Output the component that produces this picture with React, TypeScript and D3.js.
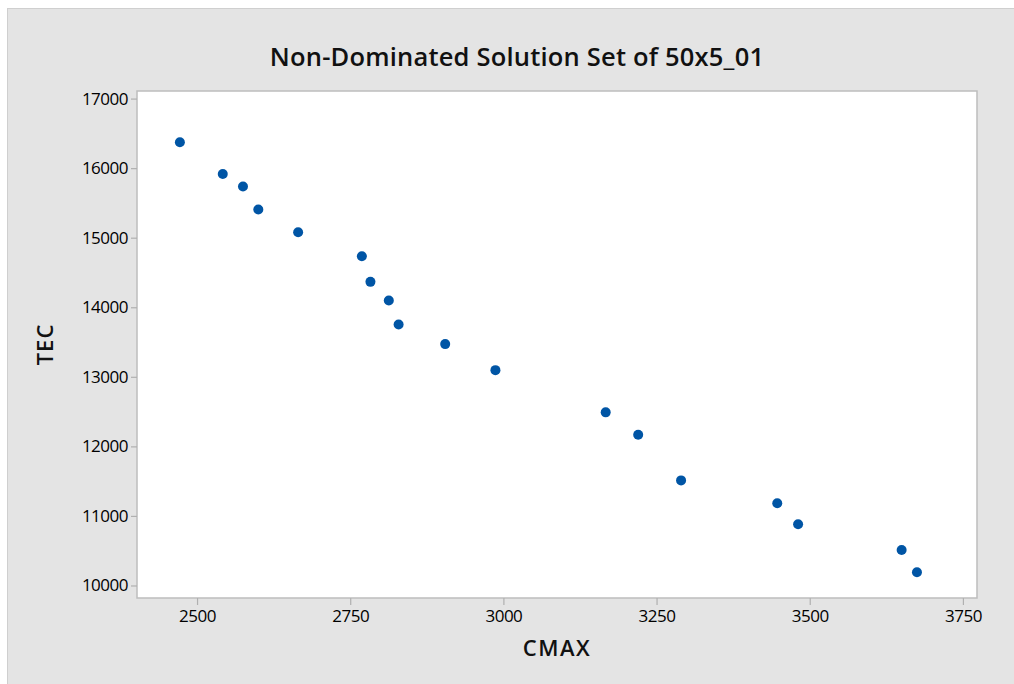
import React, { useRef, useEffect } from 'react';
import * as d3 from 'd3';

// CMAX / TEC values
const cmax = [2472, 2542, 2575, 2600, 2665, 2769, 2783, 2813, 2829, 2905, 2987, 3167, 3220, 3290, 3447, 3481, 3650, 3675];
const tec = [16372, 15917, 15736, 15405, 15079, 14734, 14365, 14098, 13753, 13470, 13096, 12489, 12167, 11511, 11181, 10879, 10510, 10190];
const xTicks = [2500, 2750, 3000, 3250, 3500, 3750];
const yTicks = [10000, 11000, 12000, 13000, 14000, 15000, 16000, 17000];

const width = 1014;
const height = 684;

const App = () => {
  const ref = useRef<SVGSVGElement>(null);

  useEffect(() => {
    const svg = d3.select(ref.current);
    svg.selectAll('*').remove();

    const margin = { top: 91, right: 37, bottom: 86, left: 137 };
    const innerWidth = width - margin.left - margin.right;
    const innerHeight = height - margin.top - margin.bottom;
    const font = "'Open Sans', 'DejaVu Sans', sans-serif";

    // outer gray panel
    svg.append('rect')
      .attr('x', 7.5)
      .attr('y', 8.5)
      .attr('width', width)
      .attr('height', height)
      .attr('fill', '#e4e4e4')
      .attr('stroke', '#cfcfcf');

    const xScale = d3.scaleLinear()
      .domain([2402, 3773])
      .range([0, innerWidth]);

    const yScale = d3.scaleLinear()
      .domain([9820, 17109])
      .range([innerHeight, 0]);

    const chart = svg.append('g')
      .attr('transform', `translate(${margin.left},${margin.top})`);

    chart.append('rect')
      .attr('width', innerWidth)
      .attr('height', innerHeight)
      .attr('fill', '#fff')
      .attr('stroke', '#bdbdbd')
      .attr('stroke-width', 1.5);

    // X axis
    const xAxis = chart.append('g')
      .attr('transform', `translate(0, ${innerHeight})`)
      .call(d3.axisBottom(xScale).tickValues(xTicks).tickSize(7).tickPadding(5).tickFormat(d3.format('d')));
    xAxis.select('.domain').remove();

    // Y axis
    const yAxis = chart.append('g')
      .call(d3.axisLeft(yScale).tickValues(yTicks).tickSize(6).tickPadding(3).tickFormat(d3.format('d')));
    yAxis.select('.domain').remove();

    [xAxis, yAxis].forEach(ax => {
      ax.selectAll('line').attr('stroke', '#b0b0b0').attr('stroke-width', 1.2);
      ax.selectAll('text')
        .attr('font-family', font)
        .attr('font-size', '17px')
        .attr('letter-spacing', '-0.5px')
        .attr('fill', '#000');
    });

    // points
    chart.selectAll('circle')
      .data(cmax.map((c, i) => ({ c, t: tec[i] })))
      .enter()
      .append('circle')
      .attr('cx', d => xScale(d.c))
      .attr('cy', d => yScale(d.t))
      .attr('r', 5)
      .attr('fill', '#0055a5');

    // title
    svg.append('text')
      .text('Non-Dominated Solution Set of 50x5_01')
      .attr('x', 517)
      .attr('y', 66)
      .attr('text-anchor', 'middle')
      .attr('font-family', font)
      .attr('font-size', '25.5px')
      .attr('letter-spacing', '0.2px')
      .attr('font-weight', 600)
      .attr('fill', '#111');

    // axis labels
    svg.append('text')
      .text('CMAX')
      .attr('x', margin.left + innerWidth / 2)
      .attr('y', 656)
      .attr('text-anchor', 'middle')
      .attr('font-family', font)
      .attr('font-size', '22px')
      .attr('letter-spacing', '1.5px')
      .attr('font-weight', 600)
      .attr('fill', '#111');

    svg.append('text')
      .text('TEC')
      .attr('transform', `translate(53, ${margin.top + innerHeight / 2}) rotate(-90)`)
      .attr('text-anchor', 'middle')
      .attr('font-family', font)
      .attr('font-size', '22px')
      .attr('letter-spacing', '1px')
      .attr('font-weight', 600)
      .attr('fill', '#111');
  }, []);

  return (
    <svg
      ref={ref}
      width={width}
      height={height}
      style={{ position: 'absolute', left: 0, top: 0, background: '#fff' }}
    ></svg>
  );
};

export default App;
